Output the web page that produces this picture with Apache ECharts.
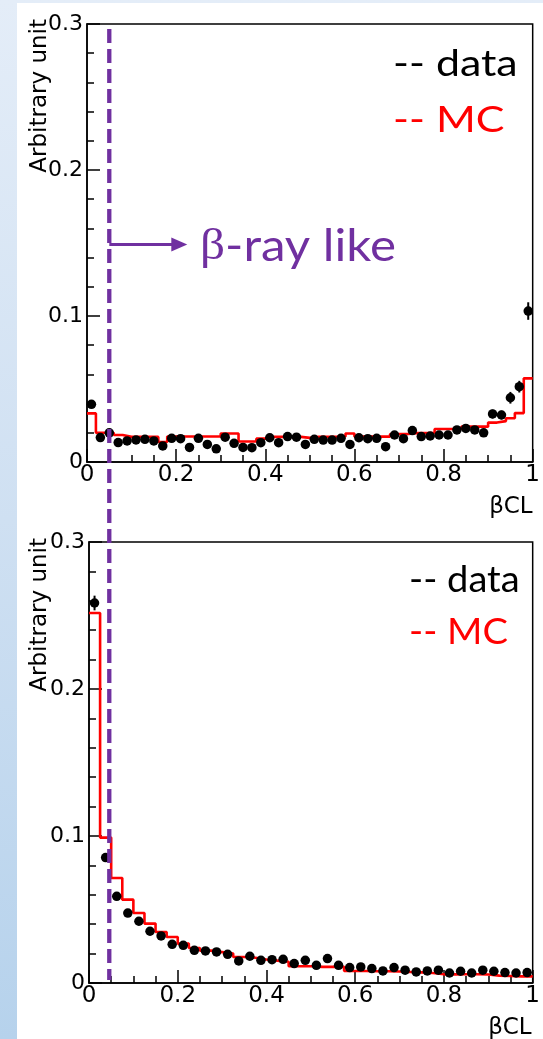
<!DOCTYPE html>
<html>
<head>
<meta charset="utf-8">
<script src="https://cdn.jsdelivr.net/npm/echarts@6/dist/echarts.min.js"></script>
<style>
  html, body { margin: 0; padding: 0; }
  body {
    width: 543px; height: 1039px; overflow: hidden; position: relative;
    background: linear-gradient(180deg, #e4edf8 0%, #cfe0f2 50%, #b6d2ec 100%);
  }
  #paper { position: absolute; left: 17px; top: 3px; right: 0; bottom: 0; background: #fff; }
  #main { position: absolute; left: 0; top: 0; width: 543px; height: 1039px; }
</style>
</head>
<body>
<div id="paper"></div>
<div id="main"></div>
<script>
  // top panel: 50 bins of 0.02
  var topBinWidth = 0.02;
  var topData = [
    0.0395, 0.0167, 0.0200, 0.0133, 0.0144, 0.0151, 0.0155, 0.0144, 0.0110, 0.0162,
    0.0160, 0.0100, 0.0162, 0.0120, 0.0090, 0.0170, 0.0128, 0.0100, 0.0098, 0.0132,
    0.0166, 0.0132, 0.0174, 0.0170, 0.0120, 0.0155, 0.0150, 0.0150, 0.0162, 0.0120,
    0.0166, 0.0160, 0.0162, 0.0105, 0.0185, 0.0160, 0.0215, 0.0174, 0.0178, 0.0185,
    0.0185, 0.0220, 0.0230, 0.0220, 0.0200, 0.0329, 0.0322, 0.0440, 0.0516, 0.1034
  ];
  var topErr = [
    0.002, 0.002, 0.002, 0.002, 0.002, 0.002, 0.002, 0.002, 0.002, 0.002,
    0.002, 0.002, 0.002, 0.002, 0.002, 0.002, 0.002, 0.002, 0.002, 0.002,
    0.002, 0.002, 0.002, 0.002, 0.002, 0.002, 0.002, 0.002, 0.002, 0.002,
    0.002, 0.002, 0.002, 0.002, 0.002, 0.002, 0.002, 0.002, 0.002, 0.002,
    0.002, 0.002, 0.002, 0.002, 0.002, 0.003, 0.003, 0.004, 0.004, 0.006
  ];
  var topMC = [
    0.0333, 0.0200, 0.0200, 0.0185, 0.0172, 0.0172, 0.0172, 0.0172, 0.0137, 0.0175,
    0.0175, 0.0175, 0.0175, 0.0175, 0.0175, 0.0195, 0.0195, 0.0140, 0.0140, 0.0160,
    0.0172, 0.0172, 0.0172, 0.0172, 0.0165, 0.0172, 0.0172, 0.0172, 0.0175, 0.0195,
    0.0174, 0.0174, 0.0174, 0.0174, 0.0192, 0.0192, 0.0198, 0.0198, 0.0200, 0.0226,
    0.0226, 0.0226, 0.0242, 0.0242, 0.0242, 0.0270, 0.0280, 0.0300, 0.0335, 0.0573
  ];

  // bottom panel: 40 bins of 0.025
  var botBinWidth = 0.025;
  var botData = [
    0.2585, 0.0853, 0.0590, 0.0476, 0.0420, 0.0352, 0.0320, 0.0263, 0.0256, 0.0222,
    0.0218, 0.0211, 0.0195, 0.0150, 0.0182, 0.0154, 0.0159, 0.0161, 0.0132, 0.0154,
    0.0120, 0.0166, 0.0120, 0.0105, 0.0109, 0.0098, 0.0082, 0.0105, 0.0087, 0.0075,
    0.0082, 0.0087, 0.0068, 0.0080, 0.0068, 0.0087, 0.0080, 0.0071, 0.0068, 0.0071
  ];
  var botErr = [
    0.005, 0.002, 0.002, 0.002, 0.002, 0.002, 0.002, 0.002, 0.002, 0.002,
    0.002, 0.002, 0.002, 0.002, 0.002, 0.002, 0.002, 0.002, 0.002, 0.002,
    0.002, 0.002, 0.002, 0.002, 0.002, 0.002, 0.002, 0.002, 0.002, 0.002,
    0.002, 0.002, 0.002, 0.002, 0.002, 0.002, 0.002, 0.002, 0.002, 0.002
  ];
  var botMC = [
    0.2517, 0.0989, 0.0714, 0.0567, 0.0476, 0.0404, 0.0347, 0.0313, 0.0268, 0.0238,
    0.0220, 0.0210, 0.0200, 0.0177, 0.0172, 0.0160, 0.0152, 0.0145, 0.0114, 0.0114,
    0.0110, 0.0110, 0.0110, 0.0082, 0.0082, 0.0080, 0.0080, 0.0078, 0.0075, 0.0072,
    0.0068, 0.0059, 0.0059, 0.0060, 0.0060, 0.0058, 0.0050, 0.0048, 0.0045, 0.0045
  ];

  var xTicks = [0, 0.2, 0.4, 0.6, 0.8, 1];
  var yTicks = [0, 0.1, 0.2, 0.3];
  var cutValue = 0.05;   // βCL cut shown by the dashed line

  function points(vals, errs, w) {
    return vals.map(function (v, i) { return [(i + 0.5) * w, v, errs[i]]; });
  }
  function steps(vals, w) {
    var p = vals.map(function (v, i) { return [i * w, v]; });
    p.push([vals.length * w, vals[vals.length - 1]]);
    return p;
  }

  var labelFont = 'DejaVu Sans';

  function xAxisCfg(idx) {
    return {
      type: 'value', gridIndex: idx, min: xTicks[0], max: xTicks[xTicks.length - 1], interval: 0.2,
      axisLine: { lineStyle: { color: '#000', width: 1.5 } },
      axisTick: { inside: true, length: 13, lineStyle: { color: '#000', width: 1.5 } },
      minorTick: { show: true, splitNumber: 4, length: 7, lineStyle: { color: '#000', width: 1.5 } },
      axisLabel: { color: '#000', fontFamily: labelFont, fontSize: 23, margin: 2 },
      splitLine: { show: false }
    };
  }
  function yAxisCfg(idx) {
    return {
      type: 'value', gridIndex: idx, min: yTicks[0], max: yTicks[yTicks.length - 1], interval: 0.1,
      axisLine: { lineStyle: { color: '#000', width: 1.5 } },
      axisTick: { inside: true, length: 13, lineStyle: { color: '#000', width: 1.5 } },
      minorTick: { show: true, splitNumber: 5, length: 7, lineStyle: { color: '#000', width: 1.5 } },
      axisLabel: { color: '#000', fontFamily: labelFont, fontSize: 22, margin: 4 },
      splitLine: { show: false }
    };
  }

  function errorBars(idx, data) {
    return {
      type: 'custom', xAxisIndex: idx, yAxisIndex: idx, data: data, z: 4,
      renderItem: function (params, api) {
        var a = api.coord([api.value(0), api.value(1) - api.value(2)]);
        var b = api.coord([api.value(0), api.value(1) + api.value(2)]);
        return { type: 'line', shape: { x1: a[0], y1: a[1], x2: b[0], y2: b[1] },
                 style: { stroke: '#000', lineWidth: 2 } };
      }
    };
  }

  var myChart = echarts.init(document.getElementById('main'), null, { renderer: 'canvas' });
  var option = {
    animation: false,
    grid: [
      { left: 87, top: 24, width: 452, height: 438, show: true, borderColor: '#000', borderWidth: 1.5, backgroundColor: 'transparent' },
      { left: 89, top: 542, width: 454, height: 441, show: true, borderColor: '#000', borderWidth: 1.5, backgroundColor: 'transparent' }
    ],
    xAxis: [xAxisCfg(0), xAxisCfg(1)],
    yAxis: [yAxisCfg(0), yAxisCfg(1)],
    series: [
      { name: 'MC', type: 'line', xAxisIndex: 0, yAxisIndex: 0, step: 'end', symbol: 'none',
        lineStyle: { color: '#ff0000', width: 2.6 }, data: steps(topMC, topBinWidth), z: 2 },
      errorBars(0, points(topData, topErr, topBinWidth)),
      { name: 'data', type: 'scatter', xAxisIndex: 0, yAxisIndex: 0, symbolSize: 9.5,
        itemStyle: { color: '#000', opacity: 1 }, data: points(topData, topErr, topBinWidth), z: 5 },
      { name: 'MC', type: 'line', xAxisIndex: 1, yAxisIndex: 1, step: 'end', symbol: 'none',
        lineStyle: { color: '#ff0000', width: 2.6 }, data: steps(botMC, botBinWidth), z: 2 },
      errorBars(1, points(botData, botErr, botBinWidth)),
      { name: 'data', type: 'scatter', xAxisIndex: 1, yAxisIndex: 1, symbolSize: 9.5,
        itemStyle: { color: '#000', opacity: 1 }, data: points(botData, botErr, botBinWidth), z: 5 }
    ]
  };
  myChart.setOption(option);

  // annotations placed from the axes
  var cutX = myChart.convertToPixel({ xAxisIndex: 0 }, cutValue);
  var top03 = myChart.convertToPixel({ yAxisIndex: 0 }, 0.3);
  var top0 = myChart.convertToPixel({ yAxisIndex: 0 }, 0);
  var bot03 = myChart.convertToPixel({ yAxisIndex: 1 }, 0.3);
  var bot0 = myChart.convertToPixel({ yAxisIndex: 1 }, 0);
  var topRight = myChart.convertToPixel({ xAxisIndex: 0 }, 1);
  var botRight = myChart.convertToPixel({ xAxisIndex: 1 }, 1);
  var arrowY = myChart.convertToPixel({ yAxisIndex: 0 }, 0.149);
  var purple = '#7030a0';

  function legendText(x, y, txt, color, sx) {
    return { type: 'text', x: x, y: y, scaleX: sx, z: 10,
             style: { text: txt, fill: color, font: '37px Lato', textAlign: 'left', textVerticalAlign: 'middle' } };
  }
  function yTitle(y) {
    return { type: 'text', x: 40, y: y, rotation: Math.PI / 2, z: 10,
             style: { text: 'Arbitrary unit', fill: '#000', font: '23px "DejaVu Sans"', textAlign: 'right', textVerticalAlign: 'middle' } };
  }
  function xTitle(x, y) {
    return { type: 'text', x: x, y: y, z: 10,
             style: { text: 'βCL', fill: '#000', font: '23px "DejaVu Sans"', textAlign: 'right', textVerticalAlign: 'middle' } };
  }

  myChart.setOption({
    graphic: [
      { type: 'line', z: 8, shape: { x1: cutX, y1: top03 + 5, x2: cutX, y2: bot0 - 3 },
        style: { stroke: purple, lineWidth: 4.3, lineDash: [14, 6] } },
      { type: 'line', z: 8, shape: { x1: cutX, y1: arrowY, x2: cutX + 64, y2: arrowY },
        style: { stroke: purple, lineWidth: 3 } },
      { type: 'polygon', z: 8, shape: { points: [[cutX + 62, arrowY - 7], [cutX + 78, arrowY], [cutX + 62, arrowY + 7]] },
        style: { fill: purple } },
      { type: 'text', x: 200, y: 247, scaleX: 1.12, z: 10,
        style: { text: '{b|β}-ray like', fill: purple, font: '44px Lato', textAlign: 'left', textVerticalAlign: 'middle',
                 rich: { b: { fontFamily: 'Liberation Serif', fontSize: 44, fill: purple } } } },
      legendText(393, 64, '-- data', '#000', 1.16),
      legendText(393, 120, '-- MC', '#ff0000', 1.16),
      legendText(409, 580, '-- data', '#000', 1.03),
      legendText(409, 632, '-- MC', '#ff0000', 1.03),
      yTitle(top03 - 5),
      yTitle(bot03 - 4),
      xTitle(topRight, top0 + 45),
      xTitle(botRight - 1, bot0 + 45)
    ]
  });
</script>
</body>
</html>
